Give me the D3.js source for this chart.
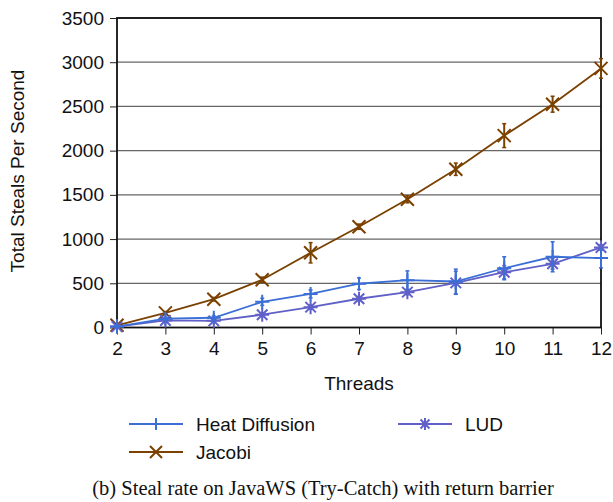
<!DOCTYPE html>
<html><head><meta charset="utf-8">
<script src="https://cdn.jsdelivr.net/npm/d3@7"></script>
<style>body{margin:0;background:#fff}svg{display:block}</style>
</head><body>
<svg id="c" width="613" height="502"></svg>
<script>
const threads = [2,3,4,5,6,7,8,9,10,11,12];
const yTicks = [0,500,1000,1500,2000,2500,3000,3500];
const heatVals = [10,100,110,290,380,495,535,520,670,800,785];
const heatErr  = [5,15,20,40,45,65,105,140,130,170,110];
const jacobiVals = [25,165,320,540,845,1140,1450,1790,2170,2525,2930];
const jacobiErr  = [10,15,20,30,115,30,40,70,135,90,110];
const ludVals = [10,80,75,145,230,325,400,505,625,720,905];
const ludErr  = [5,10,10,20,25,25,30,130,75,60,30];

const series = [
  {name:"Heat Diffusion", vals:heatVals, err:heatErr, color:"#3b6fd6", marker:"plus"},
  {name:"LUD", vals:ludVals, err:ludErr, color:"#6060c8", marker:"star"},
  {name:"Jacobi", vals:jacobiVals, err:jacobiErr, color:"#7a4100", marker:"x"}
];
const drawOrder = [series[2], series[1], series[0]];

const svg = d3.select("#c");
const L=117, R=601, T=18, B=327.5;
const x = d3.scaleLinear().domain([2,12]).range([L,R]);
const y = d3.scaleLinear().domain([0,3500]).range([B,T]);
const font = "Liberation Sans, Arial, sans-serif";
const fs = 19;

// grid
svg.append("g").selectAll("line").data(yTicks.filter(d=>d>0)).join("line")
  .attr("x1",L).attr("x2",R).attr("y1",d=>y(d)).attr("y2",d=>y(d))
  .attr("stroke","#666").attr("stroke-width",1.2);

// axes
const yAxis = d3.axisLeft(y).tickValues(yTicks).tickSize(7).tickPadding(6).tickFormat(d3.format("d"));
const gy = svg.append("g").attr("transform",`translate(${L},0)`).call(yAxis);
gy.select(".domain").remove();
gy.selectAll("line").attr("stroke","#222");
gy.selectAll("text").attr("font-family",font).attr("font-size",fs).attr("fill","#111");

const xAxis = d3.axisBottom(x).tickValues(threads).tickSize(7).tickPadding(7).tickFormat(d3.format("d"));
const gx = svg.append("g").attr("transform",`translate(0,${B})`).call(xAxis);
gx.select(".domain").remove();
gx.selectAll("line").attr("stroke","#222");
gx.selectAll("text").attr("font-family",font).attr("font-size",fs).attr("fill","#111");

// frame
svg.append("rect").attr("x",L).attr("y",T).attr("width",R-L).attr("height",B-T)
  .attr("fill","none").attr("stroke","#111").attr("stroke-width",1.8);

function drawMarker(g, type, cx, cy, color, s){
  const p = d3.path();
  if(type==="plus" || type==="star"){
    p.moveTo(cx-s,cy); p.lineTo(cx+s,cy); p.moveTo(cx,cy-s); p.lineTo(cx,cy+s);
  }
  if(type==="x" || type==="star"){
    const k = type==="star" ? s*0.75 : s;
    p.moveTo(cx-k,cy-k); p.lineTo(cx+k,cy+k); p.moveTo(cx-k,cy+k); p.lineTo(cx+k,cy-k);
  }
  g.append("path").attr("d",p.toString()).attr("stroke",color).attr("stroke-width",2).attr("fill","none");
}

const line = d3.line().x((d,i)=>x(threads[i])).y(d=>y(d));
for(const s of drawOrder){
  const g = svg.append("g");
  g.append("path").datum(s.vals).attr("d",line).attr("fill","none").attr("stroke",s.color).attr("stroke-width",1.8);
  s.vals.forEach((v,i)=>{
    const cx=x(threads[i]), y1=y(v+s.err[i]), y2=y(v-s.err[i]);
    g.append("line").attr("x1",cx).attr("x2",cx).attr("y1",y1).attr("y2",y2).attr("stroke",s.color).attr("stroke-width",2);
    g.append("line").attr("x1",cx-2).attr("x2",cx+2).attr("y1",y1).attr("y2",y1).attr("stroke",s.color).attr("stroke-width",1.5);
    g.append("line").attr("x1",cx-2).attr("x2",cx+2).attr("y1",y2).attr("y2",y2).attr("stroke",s.color).attr("stroke-width",1.5);
    drawMarker(g, s.marker, cx, y(v), s.color, s.marker==="x"?6.5:7);
  });
}

// axis titles
svg.append("text").attr("x",(L+R)/2).attr("y",390).attr("text-anchor","middle")
  .attr("font-family",font).attr("font-size",fs).attr("fill","#111").text("Threads");
svg.append("text").attr("transform","translate(24,171) rotate(-90)").attr("text-anchor","middle")
  .attr("font-family",font).attr("font-size",fs).attr("fill","#111").text("Total Steals Per Second");

// legend
const legPos = [{s:series[0],x:129,y:424},{s:series[1],x:398,y:424},{s:series[2],x:129,y:452}];
for(const l of legPos){
  const g = svg.append("g");
  g.append("line").attr("x1",l.x).attr("x2",l.x+54).attr("y1",l.y).attr("y2",l.y).attr("stroke",l.s.color).attr("stroke-width",1.8);
  drawMarker(g, l.s.marker, l.x+27, l.y, l.s.color, 6);
  g.append("text").attr("x",l.x+67).attr("y",l.y+7).attr("font-family",font).attr("font-size",fs).attr("fill","#111").text(l.s.name);
}

// caption
svg.append("text").attr("x",323).attr("y",495).attr("text-anchor","middle")
  .attr("font-family","Liberation Serif, Times New Roman, serif").attr("font-size",20.5).attr("fill","#111")
  .text("(b)  Steal rate on JavaWS (Try-Catch) with return barrier");
</script>
</body></html>
